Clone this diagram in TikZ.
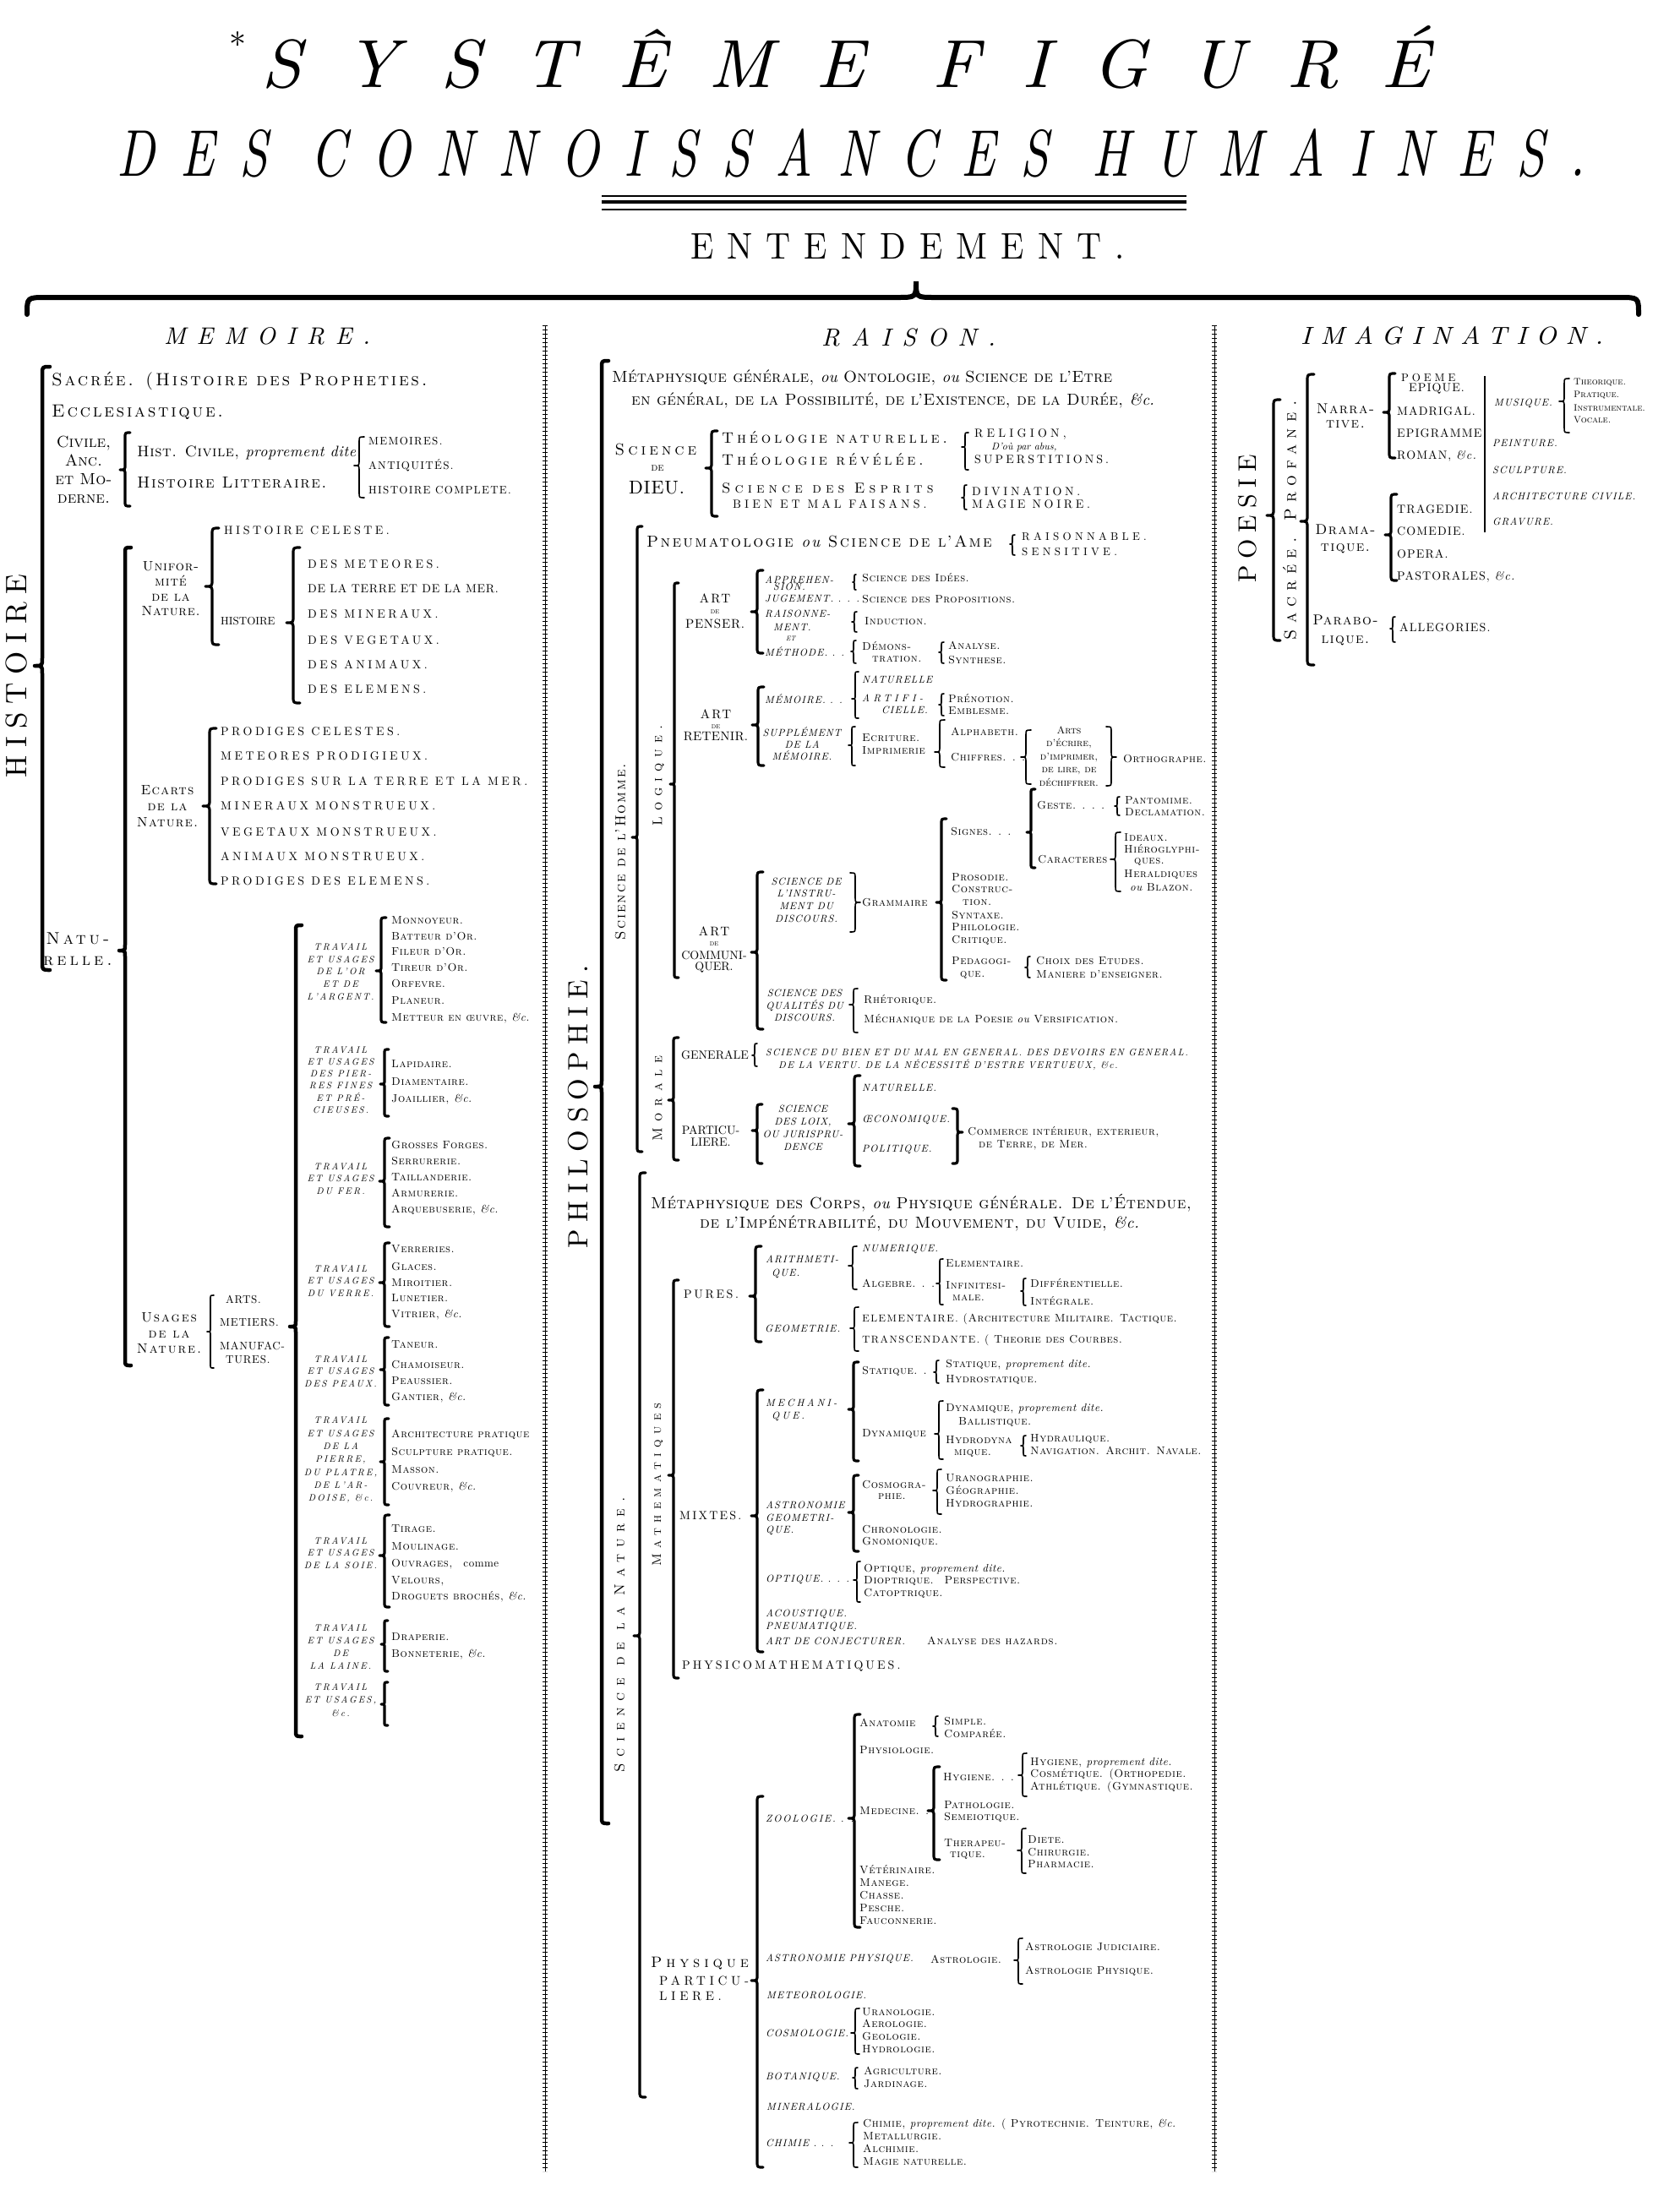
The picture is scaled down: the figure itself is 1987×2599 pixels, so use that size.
\documentclass[tikz,border=0pt]{standalone}
\usepackage{fontspec}
\setmainfont{lmroman10-regular.otf}[ItalicFont=lmroman10-italic.otf, BoldFont=lmroman10-bold.otf, BoldItalicFont=lmroman10-bolditalic.otf, SmallCapsFont=lmromancaps10-regular.otf]
\usepackage{graphicx}
\newcounter{tn}
\newcommand\fsz[1]{\fontsize{#1}{#1}\selectfont}
\newcommand\fsb[2]{\fontsize{#1}{#2}\selectfont}
\newcommand\LS[1]{\addfontfeature{LetterSpace=#1}}
\newcommand\SM{\fsz{13}\scshape\LS{4}}
\newcommand\IT{\fsz{12}\itshape\LS{9}}
\newcommand\MS{\fsz{21}\scshape\LS{13}}
\newcommand\UC{\fsz{14}\LS{25}}
\newcommand\pd[1]{{\fontshape{n}\selectfont\itshape #1}}
\newcommand\T[3][]{\stepcounter{tn}\node[tx,#1] (n\arabic{tn}) at (#2) {#3};}
\newcommand\B[6][br]{\draw[#1] ({#2+#6},#3) .. controls (#2,#3) .. (#2,{#3+#6}) -- (#2,{#4-#6}) .. controls (#2,#4) .. ({#2-#6},#4) .. controls (#2,#4) .. (#2,{#4+#6}) -- (#2,{#5-#6}) .. controls (#2,#5) .. ({#2+#6},#5);}
\newcommand\BR[6][br]{\draw[#1] ({#2-#6},#3) .. controls (#2,#3) .. (#2,{#3+#6}) -- (#2,{#4-#6}) .. controls (#2,#4) .. ({#2+#6},#4) .. controls (#2,#4) .. (#2,{#4+#6}) -- (#2,{#5-#6}) .. controls (#2,#5) .. ({#2-#6},#5);}
\tikzset{
 tx/.style={anchor=west,inner sep=0pt,font=\SM},
 tc/.style={anchor=center,align=center,inner sep=0pt},
 br/.style={line width=1.6pt,line cap=round,line join=round},
 bb/.style={line width=3.2pt,line cap=round,line join=round},
 bbb/.style={line width=4.5pt,line cap=round,line join=round},
 chain/.style={line width=1pt},
 chainx/.style={line width=6pt,dash pattern=on 1.3pt off 3.7pt},
}
\begin{document}
\begin{tikzpicture}[x=1pt,y=-1pt]
\useasboundingbox (0,0) rectangle (1987,2599);
% ---------- titles
\node[inner sep=0pt,anchor=south] (title1) at (1001,105) {\resizebox{1382pt}{73pt}{\fsz{95}\itshape\LS{60}SYSTÊME FIGURÉ}};
\node[inner sep=0pt] (ast) at (281,52) {\fsz{40}*};
\node[inner sep=0pt,anchor=south] (title2) at (1007,210) {\resizebox{1737pt}{56pt}{\fsz{82}\itshape\LS{50}DES CONNOISSANCES HUMAINES.}};
\draw[line width=1.2pt] (712,232) -- (1404,232);
\draw[line width=4pt] (712,239) -- (1404,239);
\draw[line width=2.2pt] (712,248) -- (1404,248);
\node[inner sep=0pt,anchor=south] (entend) at (1074,307) {\resizebox{514pt}{30pt}{\fsz{44}\LS{40}ENTENDEMENT.}};
\draw[line width=6pt,line cap=round] (32,372) .. controls (32,352) .. (55,352) -- (1062,352) .. controls (1084,352) .. (1084,333) .. controls (1084,352) .. (1106,352) -- (1916,352) .. controls (1939,352) .. (1939,372);
\node[inner sep=0pt,anchor=south] (hmem) at (316,408) {\resizebox{244pt}{20pt}{\fsz{28}\itshape\LS{45}MEMOIRE.}};
\node[inner sep=0pt,anchor=south] (hrai) at (1075,410) {\resizebox{206pt}{21pt}{\fsz{28}\itshape\LS{45}RAISON.}};
\node[inner sep=0pt,anchor=south] (himg) at (1718,408) {\resizebox{358pt}{21pt}{\fsz{28}\itshape\LS{35}IMAGINATION.}};
% dividers
\foreach \xx in {645,1437}{\draw[chain] (\xx,385) -- (\xx,2570); \draw[chainx] (\xx,385) -- (\xx,2570);}
% ================= MEMOIRE
\node[rotate=90,inner sep=0pt] (hist) at (20,800) {\fsz{35}\LS{28}HISTOIRE};
\B[bbb]{50}{434}{788}{1148}{9}
\T[font=\MS]{61,451}{Sacrée. (Histoire des Propheties.}
\T[font=\MS]{61,488}{Ecclesiastique.}
\node[tc,font={\fsb{19}{22}\scshape}] (civ) at (99,556) {Civile,\\Anc.\\et Mo-\\derne.};
\B[bb]{148}{512}{556}{599}{6}
\T[font={\fsz{18}\scshape\LS{3}}]{162,536}{Hist. Civile, \pd{proprement dite.}}
\T[font={\fsz{19}\scshape\LS{8}}]{162,571}{Histoire Litteraire.}
\B{425}{517}{551}{589}{6}
\T[font={\fsz{13}\LS{10}}]{436,522}{MEMOIRES.}
\T[font={\fsz{13}\LS{10}}]{436,551}{ANTIQUITÉS.}
\T[font={\fsz{13}\LS{10}}]{436,580}{HISTOIRE COMPLETE.}
\node[tc,font={\fsb{20}{25}\scshape\LS{20}}] (nat) at (92,1123) {Natu-\\relle.};
\B[bbb]{148}{648}{1125}{1616}{7}
\node[tc,font={\fsb{16}{17.7}\scshape\LS{5}}] (unif) at (202,697) {Unifor-\\mité\\de la\\Nature.};
\B[bb]{251}{625}{694}{763}{8}
\T[font=\UC]{265,628}{HISTOIRE CELESTE.}
\T[font={\fsz{13}}]{261,735}{HISTOIRE}
\B[bb]{347}{648}{737}{832}{8}
\T[font=\UC]{364,668}{DES METEORES.}
\T[font={\fsz{14}\LS{5}}]{364,697}{DE LA TERRE ET DE LA MER.}
\T[font=\UC]{364,727}{DES MINERAUX.}
\T[font=\UC]{364,758}{DES VEGETAUX.}
\T[font=\UC]{364,787}{DES ANIMAUX.}
\T[font=\UC]{364,816}{DES ELEMENS.}
\node[tc,font={\fsb{16}{19}\scshape\LS{8}}] (ecart) at (198,954) {Ecarts\\de la\\Nature.};
\B[bb]{248}{862}{954}{1046}{8}
\T[font=\UC]{261,866}{PRODIGES CELESTES.}
\T[font=\UC]{261,895}{METEORES PRODIGIEUX.}
\T[font=\UC]{261,925}{PRODIGES SUR LA TERRE ET LA MER.}
\T[font=\UC]{261,954}{MINERAUX MONSTRUEUX.}
\T[font=\UC]{261,985}{VEGETAUX MONSTRUEUX.}
\T[font=\UC]{261,1014}{ANIMAUX MONSTRUEUX.}
\T[font=\UC]{261,1043}{PRODIGES DES ELEMENS.}
\node[tc,font={\fsb{16}{18.5}\scshape\LS{12}}] (usag) at (200,1578) {Usages\\de la\\Nature.};
\B{249}{1533}{1576}{1619}{4}
\T[font={\fsz{13}\LS{6}}]{267,1538}{ARTS.}
\T[font={\fsz{13}\LS{6}}]{260,1565}{METIERS.}
\T[font={\fsz{13}\LS{6}}]{260,1593}{MANUFAC-}
\T[font={\fsz{13}\LS{6}}]{267,1609}{TURES.}
\B[bbb]{350}{1095}{1570}{2055}{7}
% travail groups
\tikzset{tl/.style={tc,font={\fsb{11}{14.7}\itshape\LS{20}}}}
\node[tl] (tr1) at (403,1150) {TRAVAIL\\ET USAGES\\DE L'OR\\ET DE\\L'ARGENT.};
\B[bb]{451}{1086}{1149}{1210}{6}
\T{463,1089}{Monnoyeur.}
\T{463,1108}{Batteur d'Or.}
\T{463,1126}{Fileur d'Or.}
\T{463,1145}{Tireur d'Or.}
\T{463,1164}{Orfevre.}
\T{463,1184}{Planeur.}
\T{463,1205}{Metteur en œuvre, \pd{\&c.}}
\node[tl,font={\fsb{11}{14.2}\itshape\LS{20}}] (tr2) at (403,1278) {TRAVAIL\\ET USAGES\\DES PIER-\\RES FINES\\ET PRÉ-\\CIEUSES.};
\B[bb]{455}{1242}{1283}{1321}{5}
\T{463,1259}{Lapidaire.}
\T{463,1280}{Diamentaire.}
\T{463,1301}{Joaillier, \pd{\&c.}}
\node[tl] (tr3) at (403,1395) {TRAVAIL\\ET USAGES\\DU FER.};
\B[bb]{455}{1347}{1398}{1452}{6}
\T{463,1355}{Grosses Forges.}
\T{463,1374}{Serrurerie.}
\T{463,1393}{Taillanderie.}
\T{463,1412}{Armurerie.}
\T{463,1432}{Arquebuserie, \pd{\&c.}}
\node[tl] (tr4) at (403,1516) {TRAVAIL\\ET USAGES\\DU VERRE.};
\B[bb]{455}{1471}{1518}{1570}{6}
\T{463,1478}{Verreries.}
\T{463,1499}{Glaces.}
\T{463,1518}{Miroitier.}
\T{463,1536}{Lunetier.}
\T{463,1556}{Vitrier, \pd{\&c.}}
\node[tl] (tr5) at (403,1623) {TRAVAIL\\ET USAGES\\DES PEAUX.};
\B[bb]{455}{1583}{1621}{1663}{5}
\T{463,1591}{Taneur.}
\T{463,1615}{Chamoiseur.}
\T{463,1634}{Peaussier.}
\T{463,1654}{Gantier, \pd{\&c.}}
\node[tl,font={\fsb{11}{15.3}\itshape\LS{20}}] (tr6) at (403,1728) {TRAVAIL\\ET USAGES\\DE LA\\PIERRE,\\DU PLATRE,\\DE L'AR-\\DOISE, \&c.};
\B[bb]{455}{1679}{1730}{1781}{5}
\T{463,1698}{Architecture pratique}
\T{463,1719}{Sculpture pratique.}
\T{463,1739}{Masson.}
\T{463,1760}{Couvreur, \pd{\&c.}}
\node[tl] (tr7) at (403,1838) {TRAVAIL\\ET USAGES\\DE LA SOIE.};
\B[bb]{455}{1793}{1841}{1902}{6}
\T{463,1809}{Tirage.}
\T{463,1830}{Moulinage.}
\T{463,1851}{Ouvrages,\quad {\fontshape{n}\selectfont comme}}
\T{463,1871}{Velours,}
\T{463,1890}{Droguets brochés, \pd{\&c.}}
\node[tl] (tr8) at (403,1949) {TRAVAIL\\ET USAGES\\DE\\LA LAINE.};
\B[bb]{455}{1918}{1946}{1978}{4}
\T{463,1937}{Draperie.}
\T{463,1958}{Bonneterie, \pd{\&c.}}
\node[tl,font={\fsb{11}{15.5}\itshape\LS{20}}] (tr9) at (403,2012) {TRAVAIL\\ET USAGES,\\\&c.};
\B[bb]{455}{1991}{2017}{2042}{4}
% ================= RAISON
\node[rotate=90,inner sep=0pt] (philo) at (684,1310) {\fsz{33}\LS{26}PHILOSOPHIE.};
\B[bbb]{712}{427}{1286}{2158}{8}
\T[font={\fsz{19}\scshape\LS{1}}]{724,447}{Métaphysique générale, \pd{ou} Ontologie, \pd{ou} Science de l'Etre}
\T[font={\fsz{19}\scshape\LS{1}}]{747,474}{en général, de la Possibilité, de l'Existence, de la Durée, \pd{\&c.}}
\node[tc,font={\fsz{19}\scshape\LS{21}}] (sd1) at (776,532) {Science};
\node[tc,font={\fsz{13}\scshape}] (sd2) at (778,554) {de};
\node[tc,font={\fsz{22}\LS{4}}] (sd3) at (777,577) {DIEU.};
\B[bb]{842}{510}{554}{611}{7}
\T[font={\fsz{18}\scshape\LS{21}}]{854,518}{Théologie naturelle.}
\T[font={\fsz{18}\scshape\LS{21}}]{854,544}{Théologie révélée.}
\B{1142}{512}{529}{556}{4}
\T[font={\fsz{14}\LS{30}}]{1153,514}{RELIGION,}
\T[font={\fsz{12}\itshape}]{1173,529}{D'où par abus,}
\T[font={\fsz{14}\LS{22}}]{1153,544}{SUPERSTITIONS.}
\T[font={\fsz{17}\scshape\LS{30}}]{854,578}{Science des Esprits}
\T[font={\fsz{14}\LS{29}}]{867,597}{BIEN ET MAL FAISANS.}
\B{1141}{574}{589}{603}{3}
\T[font={\fsz{14}\LS{26}}]{1150,582}{DIVINATION.}
\T[font={\fsz{14}\LS{26}}]{1150,597}{MAGIE NOIRE.}
\node[rotate=90,inner sep=0pt] (sdh) at (734,1008) {\fsz{17}\scshape\LS{12}Science de l'Homme.};
\B[bb]{754}{623}{991}{1363}{6}
\T[font={\fsz{19}\scshape\LS{12}}]{765,641}{Pneumatologie \pd{ou} Science de l'Ame}
\B{1198}{633}{644}{657}{3}
\T[font={\fsz{13}\LS{33}}]{1209,635}{RAISONNABLE.}
\T[font={\fsz{13}\LS{33}}]{1209,653}{SENSITIVE.}
\node[rotate=90,inner sep=0pt] (logi) at (779,918) {\fsz{16}\scshape\LS{44}Logique.};
\B[bb]{798}{690}{928}{1157}{5}
\tikzset{art/.style={tc,font={\fsz{15}\LS{15}}},de/.style={tc,font={\fsz{7}}}}
\node[art] (ap1) at (846,708) {ART};
\node[de] (ap2) at (846,724) {DE};
\node[art,font={\fsz{15}\LS{5}}] (ap3) at (846,738) {PENSER.};
\B[bb]{896}{675}{724}{773}{7}
\T[font=\IT]{905,686}{APPREHEN-}
\T[font=\IT]{915,694}{SION.}
\T[font=\IT]{905,708}{JUGEMENT. . . .}
\T[font=\IT]{905,726}{RAISONNE-}
\T[font=\IT]{915,742}{MENT.}
\T[font={\fsz{8}\itshape}]{930,756}{ET}
\T[font=\IT]{905,771}{MÉTHODE. . .}
\B{1011}{680}{689}{698}{2}
\B{1011}{724}{736}{748}{3}
\B{1010}{758}{771}{785}{3}
\B{1114}{760}{772}{785}{3}
\T{1020,684}{Science des Idées.}
\T{1020,709}{Science des Propositions.}
\T{1023,735}{Induction.}
\T{1020,765}{Démons-}
\T{1032,780}{tration.}
\T{1122,764}{Analyse.}
\T{1122,781}{Synthese.}
\node[art] (ar1) at (847,845) {ART};
\node[de] (ar2) at (847,860) {DE};
\node[art,font={\fsz{15}\LS{2}}] (ar3) at (847,872) {RETENIR.};
\B[bb]{897}{813}{858}{906}{7}
\T[font=\IT]{905,827}{MÉMOIRE. . .}
\B{1012}{795}{827}{850}{4}
\T[font=\IT]{1020,804}{NATURELLE}
\T[font={\fsz{12}\itshape\LS{35}}]{1020,826}{ARTIFI-}
\T[font=\IT]{1043,840}{CIELLE.}
\B{1114}{821}{834}{847}{3}
\T{1122,827}{Prénotion.}
\T{1122,841}{Emblesme.}
\node[tc,font={\fsb{12}{14}\itshape\LS{8}}] (supl) at (949,880) {SUPPLÉMENT\\DE LA\\MÉMOIRE.};
\B{1008}{860}{882}{906}{4}
\T{1020,873}{Ecriture.}
\T{1020,888}{Imprimerie}
\B{1112}{852}{890}{908}{6}
\T{1125,866}{Alphabeth.}
\T{1125,896}{Chiffres. . .}
\B{1214}{864}{896}{928}{6}
\node[tc,font={\fsb{12}{15.5}\scshape}] (arts) at (1265,895) {Arts\\d'écrire,\\d'imprimer,\\de lire, de\\déchiffrer.};
\BR{1315}{860}{896}{930}{6}
\T{1329,898}{Orthographe.}
\T{1125,984}{Signes. . .}
\B[bb]{1220}{934}{985}{1027}{5}
\T{1227,953}{Geste. . . .}
\B{1322}{943}{954}{965}{3}
\T{1331,947}{Pantomime.}
\T{1331,961}{Declamation.}
\T{1228,1017}{Caracteres}
\B{1320}{985}{1017}{1055}{6}
\T{1330,991}{Ideaux.}
\T{1330,1005}{Hiéroglyphi-}
\T{1342,1020}{ques.}
\T{1330,1035}{Heraldiques}
\T{1337,1050}{\pd{ou} Blazon.}
\B[bb]{1114}{969}{1068}{1160}{6}
\T{1020,1068}{Grammaire}
\T{1126,1038}{Prosodie.}
\T{1126,1052}{Construc-}
\T{1139,1068}{tion.}
\T{1126,1083}{Syntaxe.}
\T{1126,1097}{Philologie.}
\T{1126,1113}{Critique.}
\T{1126,1137}{Pedagogi-}
\T{1136,1154}{que.}
\B{1216}{1132}{1145}{1157}{3}
\T{1226,1137}{Choix des Etudes.}
\T{1226,1153}{Maniere d'enseigner.}
\node[tc,font={\fsb{12}{14.7}\itshape\LS{8}}] (sinst) at (954,1065) {SCIENCE DE\\L'INSTRU-\\MENT DU\\DISCOURS.};
\BR{1012}{1033}{1068}{1103}{6}
\node[art] (ac1) at (845,1102) {ART};
\node[de] (ac2) at (845,1117) {DE};
\node[tc,font={\fsb{14}{13}}] (ac3) at (845,1138) {COMMUNI-\\QUER.};
\B[bb]{896}{1032}{1127}{1218}{7}
\node[tc,font={\fsb{12}{14.5}\itshape\LS{6}}] (squal) at (952,1190) {SCIENCE DES\\QUALITÉS DU\\DISCOURS.};
\B{1010}{1170}{1189}{1222}{5}
\T{1022,1183}{Rhétorique.}
\T{1022,1206}{Méchanique de la Poesie \pd{ou} Versification.}
\node[rotate=90,inner sep=0pt] (mor) at (778,1300) {\fsz{16}\scshape\LS{48}Morale};
\B[bb]{797}{1228}{1302}{1373}{6}
\T[font={\fsz{14}}]{806,1249}{GENERALE}
\B{893}{1235}{1249}{1262}{3}
\T[font={\fsz{11.5}\itshape\LS{12}}]{906,1245}{SCIENCE DU BIEN ET DU MAL EN GENERAL. DES DEVOIRS EN GENERAL.}
\T[font={\fsz{11.5}\itshape\LS{12}}]{921,1260}{DE LA VERTU. DE LA NÉCESSITÉ D'ESTRE VERTUEUX, \&c.}
\node[tc,font={\fsb{14}{14}}] (part) at (841,1345) {PARTICU-\\LIERE.};
\B[bb]{896}{1307}{1338}{1377}{6}
\node[tc,font={\fsb{12}{15}\itshape\LS{6}}] (sloix) at (950,1335) {SCIENCE\\DES LOIX,\\OU JURISPRU-\\DENCE};
\B[bb]{1011}{1273}{1330}{1380}{7}
\T[font=\IT]{1020,1287}{NATURELLE.}
\T[font=\IT]{1020,1325}{ŒCONOMIQUE.}
\T[font=\IT]{1020,1360}{POLITIQUE.}
\BR[bb]{1133}{1312}{1340}{1377}{6}
\T{1145,1340}{Commerce intérieur, exterieur,}
\T{1158,1355}{de Terre, de Mer.}
% science de la nature
\node[rotate=90,inner sep=0pt] (sdn) at (733,1935) {\fsz{17}\scshape\LS{46}Science de la Nature.};
\B[bb]{757}{1388}{1936}{2482}{7}
\T[font={\fsz{19}\scshape\LS{3}}]{770,1424}{Métaphysique des Corps, \pd{ou} Physique générale. De l'Étendue,}
\T[font={\fsz{19}\scshape\LS{3}}]{828,1448}{de l'Impénétrabilité, du Mouvement, du Vuide, \pd{\&c.}}
\node[rotate=90,inner sep=0pt] (math) at (778,1757) {\fsz{15}\scshape\LS{43}Mathematiques};
\B[bb]{797}{1515}{1746}{1986}{6}
\T[font={\fsz{14}\LS{19}}]{809,1532}{PURES.}
\B[bb]{894}{1475}{1534}{1588}{7}
\T[font=\IT]{906,1490}{ARITHMETI-}
\T[font=\IT]{913,1507}{QUE.}
\B{1009}{1475}{1498}{1526}{5}
\T[font=\IT]{1020,1478}{NUMERIQUE.}
\T{1020,1519}{Algebre. . .}
\B{1112}{1490}{1519}{1544}{4}
\T{1119,1495}{Elementaire.}
\T{1119,1521}{Infinitesi-}
\T{1127,1536}{male.}
\B{1211}{1513}{1528}{1545}{3}
\T{1219,1519}{Différentielle.}
\T{1219,1540}{Intégrale.}
\T[font=\IT]{905,1572}{GEOMETRIE.}
\B{1011}{1547}{1572}{1599}{5}
\T{1020,1561}{{\IT ELEMENTAIRE.} (Architecture Militaire. Tactique.}
\T{1020,1586}{{\IT TRANSCENDANTE.} ( Theorie des Courbes.}
\T[font={\fsz{14}\LS{16}}]{804,1794}{MIXTES.}
\B[bb]{896}{1645}{1794}{1955}{7}
\T[font={\fsz{12}\itshape\LS{25}}]{906,1660}{MECHANI-}
\T[font={\fsz{12}\itshape\LS{25}}]{913,1676}{QUE.}
\B[bb]{1010}{1612}{1668}{1729}{6}
\T{1020,1623}{Statique. .}
\B{1108}{1610}{1624}{1637}{3}
\T{1119,1615}{Statique, \pd{proprement dite.}}
\T{1119,1633}{Hydrostatique.}
\T{1020,1697}{Dynamique}
\B{1111}{1658}{1697}{1727}{5}
\T{1119,1667}{Dynamique, \pd{proprement dite.}}
\T{1134,1683}{Ballistique.}
\T{1119,1704}{Hydrodyna}
\T{1129,1720}{mique.}
\B{1211}{1699}{1711}{1723}{3}
\T{1219,1703}{Hydraulique.}
\T{1219,1717}{Navigation. Archit. Navale.}
\T[font=\IT]{906,1781}{ASTRONOMIE}
\T[font=\IT]{906,1796}{GEOMETRI-}
\T[font=\IT]{906,1811}{QUE.}
\B[bb]{1010}{1746}{1790}{1836}{6}
\T{1020,1757}{Cosmogra-}
\T{1039,1771}{phie.}
\B{1109}{1739}{1764}{1792}{5}
\T{1119,1749}{Uranographie.}
\T{1119,1764}{Géographie.}
\T{1119,1779}{Hydrographie.}
\T{1020,1810}{Chronologie.}
\T{1020,1825}{Gnomonique.}
\T[font=\IT]{906,1869}{OPTIQUE. . . .}
\B{1014}{1848}{1870}{1896}{4}
\T{1022,1857}{Optique, \pd{proprement dite.}}
\T{1022,1871}{Dioptrique.\quad Perspective.}
\T{1022,1886}{Catoptrique.}
\T[font=\IT]{906,1910}{ACOUSTIQUE.}
\T[font=\IT]{906,1925}{PNEUMATIQUE.}
\T[font=\IT]{906,1942}{ART DE CONJECTURER.}
\T[font={\fsz{13}\scshape\LS{6}}]{1097,1942}{\textbf{Analyse des hazards.}}
\T[font={\fsz{14}\LS{22}}]{807,1972}{PHYSICOMATHEMATIQUES.}
% physique particuliere
\T[font={\fsz{18}\scshape\LS{27}}]{770,2324}{Physique}
\T[font={\fsz{15}\LS{31}}]{780,2344}{PARTICU-}
\T[font={\fsz{15}\LS{31}}]{780,2363}{LIERE.}
\B[bb]{896}{2126}{2344}{2565}{7}
\T[font={\fsz{12}\itshape\LS{15}}]{906,2152}{ZOOLOGIE. . .}
\B[bb]{1011}{2029}{2152}{2281}{7}
\T{1017,2039}{Anatomie}
\B{1107}{2031}{2043}{2055}{3}
\T{1117,2037}{Simple.}
\T{1117,2052}{Comparée.}
\T{1017,2071}{Physiologie.}
\T{1017,2143}{Medecine. .}
\B[bb]{1105}{2091}{2143}{2201}{7}
\T{1116,2103}{Hygiene. . .}
\B{1210}{2075}{2101}{2126}{5}
\T{1219,2086}{Hygiene, \pd{proprement dite.}}
\T{1219,2100}{Cosmétique. (Orthopedie.}
\T{1219,2115}{Athlétique. (Gymnastique.}
\T{1117,2136}{Pathologie.}
\T{1117,2151}{Semeiotique.}
\T{1117,2181}{Therapeu-}
\T{1124,2196}{tique.}
\B{1209}{2164}{2190}{2217}{5}
\T{1216,2177}{Diete.}
\T{1216,2192}{Chirurgie.}
\T{1216,2206}{Pharmacie.}
\T{1017,2213}{Vétérinaire.}
\T{1017,2228}{Manege.}
\T{1017,2243}{Chasse.}
\T{1017,2258}{Pesche.}
\T{1017,2273}{Fauconnerie.}
\T[font=\IT]{906,2318}{ASTRONOMIE PHYSIQUE.}
\T{1101,2319}{Astrologie.}
\B{1205}{2294}{2320}{2348}{5}
\T{1213,2304}{Astrologie Judiciaire.}
\T{1213,2333}{Astrologie Physique.}
\T[font=\IT]{907,2361}{METEOROLOGIE.}
\T[font=\IT]{906,2406}{COSMOLOGIE.}
\B{1012}{2377}{2406}{2431}{5}
\T{1020,2381}{Uranologie.}
\T{1020,2395}{Aerologie.}
\T{1020,2410}{Geologie.}
\T{1020,2425}{Hydrologie.}
\T[font=\IT]{906,2458}{BOTANIQUE.}
\B{1012}{2447}{2459}{2472}{3}
\T{1022,2451}{Agriculture.}
\T{1022,2466}{Jardinage.}
\T[font=\IT]{907,2493}{MINERALOGIE.}
\T[font=\IT]{906,2536}{CHIMIE . . .}
\B{1010}{2512}{2536}{2565}{5}
\T{1021,2514}{Chimie, \pd{proprement dite.} ( Pyrotechnie. Teinture, \pd{\&c.}}
\T{1021,2528}{Metallurgie.}
\T{1021,2543}{Alchimie.}
\T{1021,2558}{Magie naturelle.}
% ================= IMAGINATION
\node[rotate=90,inner sep=0pt] (poes) at (1476,614) {\fsz{30}\LS{26}POESIE};
\B[bb]{1507}{473}{610}{758}{8}
\node[rotate=90,inner sep=0pt] (sacpro) at (1526,616) {\fsz{20}\scshape\LS{37}Sacrée.\quad Profane.};
\B[bb]{1547}{443}{617}{787}{8}
\node[tc,font={\fsb{17}{17}\scshape\LS{8}}] (narr) at (1592,492) {Narra-\\tive.};
\B[bb]{1644}{442}{488}{542}{7}
\tikzset{ip/.style={font={\fsz{14}\LS{8}}}}
\T[font={\fsz{13}\LS{30}}]{1658,447}{POEME}
\T[ip]{1667,460}{EPIQUE.}
\T[ip]{1653,487}{MADRIGAL.}
\T[ip]{1653,513}{EPIGRAMME}
\T[ip]{1653,540}{ROMAN, \pd{\&c.}}
\draw[line width=2pt] (1757,445) -- (1757,630);
\T[font=\IT]{1768,477}{MUSIQUE.}
\B{1851}{448}{475}{512}{6}
\T[font={\fsz{11}\scshape}]{1862,453}{Theorique.}
\T[font={\fsz{11}\scshape}]{1862,468}{Pratique.}
\T[font={\fsz{11}\scshape}]{1862,483}{Instrumentale.}
\T[font={\fsz{11}\scshape}]{1862,497}{Vocale.}
\T[font=\IT]{1766,525}{PEINTURE.}
\T[font=\IT]{1766,556}{SCULPTURE.}
\T[font=\IT]{1766,587}{ARCHITECTURE CIVILE.}
\T[font=\IT]{1766,617}{GRAVURE.}
\node[tc,font={\fsb{17}{20}\scshape\LS{8}}] (dram) at (1592,638) {Drama-\\tique.};
\B[bb]{1646}{585}{633}{687}{7}
\T[ip]{1653,603}{TRAGEDIE.}
\T[ip]{1653,629}{COMEDIE.}
\T[ip]{1653,656}{OPERA.}
\T[ip]{1653,683}{PASTORALES, \pd{\&c.}}
\node[tc,font={\fsb{17}{22}\scshape\LS{8}}] (parab) at (1592,746) {Parabo-\\lique.};
\B{1648}{730}{744}{760}{3}
\T[ip]{1656,743}{ALLEGORIES.}
\end{tikzpicture}
\end{document}
